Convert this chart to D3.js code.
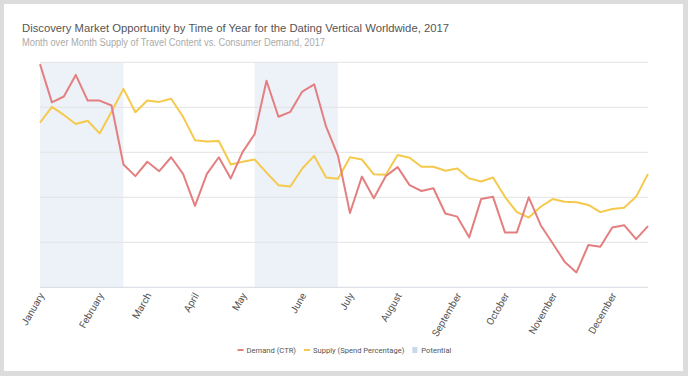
<!DOCTYPE html>
<html><head><meta charset="utf-8">
<script src="https://cdn.jsdelivr.net/npm/d3@7"></script>
<style>
html,body{margin:0;padding:0;background:#dcdcdc;}
svg{display:block;}
</style></head>
<body>
<svg id="chart" width="688" height="376"></svg>
<script>
const title = "Discovery Market Opportunity by Time of Year for the Dating Vertical Worldwide, 2017";
const subtitle = "Month over Month Supply of Travel Content vs. Consumer Demand, 2017";
const monthLabels = ["January","February","March","April","May","June","July","August","September","October","November","December"];
const monthWeeks = [0,5,9,13,17,22,26,30,35,39,43,48];
const demand = [4.96,4.11,4.24,4.72,4.15,4.15,4.04,2.73,2.47,2.79,2.58,2.89,2.52,1.81,2.52,2.89,2.42,3.01,3.40,4.59,3.79,3.90,4.35,4.51,3.57,2.92,1.65,2.46,1.98,2.47,2.67,2.27,2.14,2.20,1.64,1.57,1.11,1.96,2.01,1.22,1.22,2.00,1.38,0.98,0.57,0.33,0.94,0.90,1.33,1.38,1.07,1.36];
const supply = [3.66,4.01,3.83,3.63,3.70,3.42,3.90,4.41,3.89,4.15,4.12,4.19,3.79,3.27,3.24,3.25,2.73,2.79,2.84,2.55,2.27,2.24,2.64,2.92,2.44,2.41,2.89,2.84,2.51,2.50,2.94,2.88,2.68,2.68,2.59,2.64,2.42,2.35,2.44,2.01,1.67,1.55,1.79,1.96,1.90,1.89,1.83,1.67,1.74,1.77,2.01,2.52];
const potential = [[0,7],[18,25]];
const yTicks = [0,1,2,3,4,5];
const seriesNames = ["Demand (CTR)","Supply (Spend Percentage)","Potential"];
const colors = {demand:"#e47f80", supply:"#f5c94c", potential:"#edf2f9", potentialKey:"#c9d8ea"};

const svg = d3.select("#chart");
svg.append("rect").attr("x",4).attr("y",4).attr("width",679).attr("height",367).attr("fill","#fff");

const m = {left:40, right:648, top:62.3, bottom:287.3};
const x = d3.scaleLinear().domain([0, demand.length-1]).range([m.left, m.right]);
const y = d3.scaleLinear().domain([0,5]).range([m.bottom, m.top]);

svg.append("g").selectAll("rect").data(potential).join("rect")
  .attr("x", d=>x(d[0])).attr("width", d=>x(d[1])-x(d[0]))
  .attr("y", y(5)).attr("height", y(0)-y(5)).attr("fill", colors.potential);

svg.append("g").selectAll("line").data(yTicks).join("line")
  .attr("x1", m.left).attr("x2", m.right)
  .attr("y1", d=>y(d)).attr("y2", d=>y(d))
  .attr("stroke", d=> d===0 ? "#d5d9e0" : "#e3e3e3").attr("stroke-width",1);

const xAxis = d3.axisBottom(x).tickValues(monthWeeks).tickFormat((d,i)=>monthLabels[i]).tickSize(0).tickPadding(0);
const gx = svg.append("g").attr("transform",`translate(0,${m.bottom})`).call(xAxis);
gx.select(".domain").remove();
gx.selectAll("text")
  .attr("font-family","Roboto, sans-serif").attr("font-size",10).attr("fill","#555")
  .attr("text-anchor","end").attr("dy",null).attr("y",0)
  .attr("transform","translate(4,8) rotate(-60)");

const line = d3.line().x((d,i)=>x(i)).y(d=>y(d));
svg.append("path").datum(supply).attr("d",line).attr("fill","none").attr("stroke",colors.supply).attr("stroke-width",2).attr("stroke-linejoin","round");
svg.append("path").datum(demand).attr("d",line).attr("fill","none").attr("stroke",colors.demand).attr("stroke-width",2).attr("stroke-linejoin","round");

svg.append("text").attr("x",22).attr("y",32).text(title)
  .attr("font-family","'Liberation Sans', Helvetica, Arial, sans-serif").attr("font-size",11.4).attr("fill","#555")
  .attr("textLength",427).attr("lengthAdjust","spacingAndGlyphs");
svg.append("text").attr("x",22).attr("y",46).text(subtitle)
  .attr("font-family","'Liberation Sans', Helvetica, Arial, sans-serif").attr("font-size",10).attr("fill","#aaa")
  .attr("textLength",303).attr("lengthAdjust","spacingAndGlyphs");

// legend
const lg = svg.append("g").attr("font-family","Roboto, sans-serif").attr("font-size",7.6).attr("fill","#555");
const legendItems = [
  {name:seriesNames[0], color:colors.demand, type:"line"},
  {name:seriesNames[1], color:colors.supply, type:"line"},
  {name:seriesNames[2], color:colors.potentialKey, type:"rect"}
];
const items = legendItems.map(it=>{
  const g = lg.append("g");
  if(it.type==="line") g.append("rect").attr("x",0).attr("y",-1).attr("width",6).attr("height",2).attr("fill",it.color);
  else g.append("rect").attr("x",0).attr("y",-3).attr("width",5).attr("height",6).attr("fill",it.color);
  const t = g.append("text").attr("x",9).attr("y",3).text(it.name);
  return {g, w: 9 + t.node().getComputedTextLength()};
});
const gap = 8;
const total = d3.sum(items, d=>d.w) + gap*(items.length-1);
let cx = 344.5 - total/2;
items.forEach(it=>{ it.g.attr("transform",`translate(${cx},350)`); cx += it.w + gap; });
</script>
</body></html>
